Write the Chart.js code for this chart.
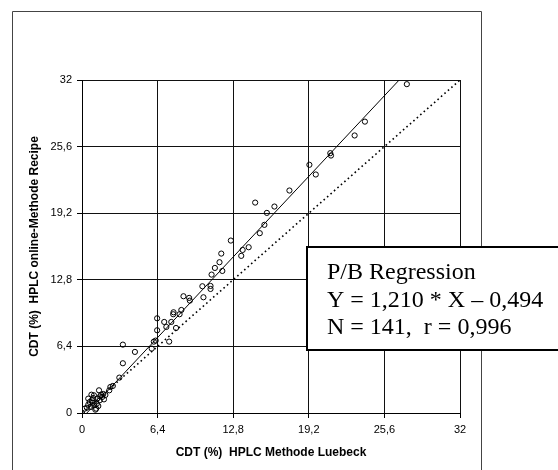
<!DOCTYPE html>
<html>
<head>
<meta charset="utf-8">
<script src="https://cdn.jsdelivr.net/npm/chart.js@4/dist/chart.umd.min.js"></script>
<style>
  html, body { margin: 0; padding: 0; background: #fff; }
  #wrap { width: 558px; height: 470px; }
</style>
</head>
<body>
<div id="wrap"><canvas id="cdtChart" width="558" height="470"></canvas></div>
<script>
// CDT (%) values: HPLC Methode Luebeck (x) vs HPLC online-Methode Recipe (y)
var luebeckX = [
    27.5, 23.95, 23.08, 21.02, 21.08, 19.25, 19.79, 17.56, 14.66, 16.29,
    15.65, 15.44, 15.05, 12.6, 14.11, 13.6, 13.48, 11.79, 11.64, 11.25,
    10.97, 11.88, 10.19, 10.88, 10.88, 10.28, 8.59, 9.07, 9.13, 8.41,
    7.75, 7.72, 8.26, 6.36, 6.96, 7.56, 7.14, 7.96, 6.36, 7.38,
    6.24, 6.08, 5.9, 3.46, 4.48, 3.46, 3.16, 2.61, 2.4, 2.31,
    0, 0.23, 0.41, 0.53, 0.53, 0.74, 0.8, 0.83, 0.89, 1.01,
    1.04, 1.13, 1.26, 1.29, 1.38, 1.44, 1.5, 1.53, 1.62, 1.71,
    1.8, 1.86, 1.98, 1.2, 0.65, 0.95
];
var recipeY = [
    31.6, 28.0, 26.67, 24.97, 24.74, 23.85, 22.92, 21.38, 20.22, 19.84,
    19.23, 18.08, 17.28, 16.57, 15.93, 15.67, 15.1, 15.32, 14.49, 13.94,
    13.3, 13.65, 12.18, 12.21, 11.92, 11.12, 11.22, 11.06, 10.8, 9.9,
    9.68, 9.49, 9.49, 9.1, 8.75, 8.75, 8.27, 8.17, 7.95, 6.86,
    6.96, 6.86, 6.19, 6.57, 5.87, 4.78, 3.4, 2.6, 2.5, 2.18,
    0, 0.42, 0.51, 0.8, 1.38, 0.58, 1.76, 1.22, 0.99, 1.7,
    0.74, 0.32, 0.9, 1.38, 0.67, 2.18, 1.22, 1.6, 1.76, 1.54,
    1.83, 1.31, 1.73, 0.42, 1.06, 1.44
];

// P/B regression line ends and the line of identity
var regX = [0.41, 26.85];
var regY = [0, 32];
var identX = [0, 32];
var identY = [0, 32];

var tickValues = [0, 6.4, 12.8, 19.2, 25.6, 32];
var tickLabels = ['0', '6,4', '12,8', '19,2', '25,6', '32'];

var boxLines = ['P/B Regression', 'Y = 1,210 * X \u2013 0,494', 'N = 141,  r = 0,996'];

function pairs(xs, ys) {
    return xs.map(function (x, i) { return { x: x, y: ys[i] }; });
}

function setTicks(scale) {
    scale.ticks = tickValues.map(function (v) { return { value: v }; });
}

var pageFrame = {
    id: 'pageFrame',
    beforeDraw: function (chart) {
        var ctx = chart.ctx;
        ctx.save();
        ctx.strokeStyle = '#444';
        ctx.lineWidth = 1;
        ctx.beginPath();
        ctx.moveTo(12.5, 470);
        ctx.lineTo(12.5, 11.5);
        ctx.lineTo(481.5, 11.5);
        ctx.lineTo(481.5, 470);
        ctx.stroke();
        ctx.restore();
    }
};

var regressionBox = {
    id: 'regressionBox',
    afterDraw: function (chart) {
        var ctx = chart.ctx;
        ctx.save();
        ctx.fillStyle = '#fff';
        ctx.fillRect(307, 247, 260, 103);
        ctx.strokeStyle = '#000';
        ctx.lineWidth = 2;
        ctx.strokeRect(307, 247, 260, 103);
        ctx.fillStyle = '#000';
        ctx.font = '24px "Liberation Serif", "Times New Roman", serif';
        ctx.textBaseline = 'alphabetic';
        ctx.textAlign = 'left';
        boxLines.forEach(function (line, i) {
            ctx.fillText(line, 327, 279 + i * 27.5);
        });
        ctx.restore();
    }
};

var tickFont = { family: '"Liberation Sans", Arial, sans-serif', size: 11 };
var titleFont = { family: '"Liberation Sans", Arial, sans-serif', size: 12, weight: 'bold' };

new Chart(document.getElementById('cdtChart'), {
    type: 'scatter',
    data: {
        datasets: [
            {
                label: 'Proben',
                data: pairs(luebeckX, recipeY),
                pointRadius: 2.6,
                pointBorderWidth: 1,
                pointBorderColor: '#000',
                pointBackgroundColor: 'rgba(0,0,0,0)',
                showLine: false
            },
            {
                label: 'P/B Regression',
                data: pairs(regX, regY),
                showLine: true,
                borderColor: '#000',
                borderWidth: 1,
                pointRadius: 0,
                fill: false
            },
            {
                label: 'Y = X',
                data: pairs(identX, identY),
                showLine: true,
                borderColor: '#000',
                borderWidth: 1.6,
                borderDash: [1.6, 3],
                pointRadius: 0,
                fill: false
            }
        ]
    },
    options: {
        responsive: false,
        animation: false,
        layout: { padding: { top: 80, right: 98, left: 0, bottom: 0 } },
        plugins: {
            legend: { display: false },
            tooltip: { enabled: false }
        },
        scales: {
            x: {
                type: 'linear',
                min: 0,
                max: 32,
                afterBuildTicks: setTicks,
                afterFit: function (scale) { scale.height = 57; },
                grid: { color: '#111', lineWidth: 1, tickLength: 5, tickColor: '#000' },
                border: { color: '#000', width: 1 },
                ticks: {
                    color: '#000',
                    font: tickFont,
                    padding: 5,
                    maxRotation: 0,
                    callback: function (v, i) { return tickLabels[i]; }
                },
                title: {
                    display: true,
                    text: 'CDT (%)  HPLC Methode Luebeck',
                    color: '#000',
                    font: titleFont,
                    padding: { top: 0, bottom: 10 }
                }
            },
            y: {
                type: 'linear',
                min: 0,
                max: 32,
                afterBuildTicks: setTicks,
                afterFit: function (scale) { scale.width = 82; },
                grid: { color: '#111', lineWidth: 1, tickLength: 5, tickColor: '#000' },
                border: { color: '#000', width: 1 },
                ticks: {
                    color: '#000',
                    font: tickFont,
                    padding: 5,
                    callback: function (v, i) { return tickLabels[i]; }
                },
                title: {
                    display: true,
                    text: 'CDT (%)  HPLC online-Methode Recipe',
                    color: '#000',
                    font: titleFont,
                    padding: { top: 27, bottom: 0 }
                }
            }
        }
    },
    plugins: [pageFrame, regressionBox]
});
</script>
</body>
</html>
